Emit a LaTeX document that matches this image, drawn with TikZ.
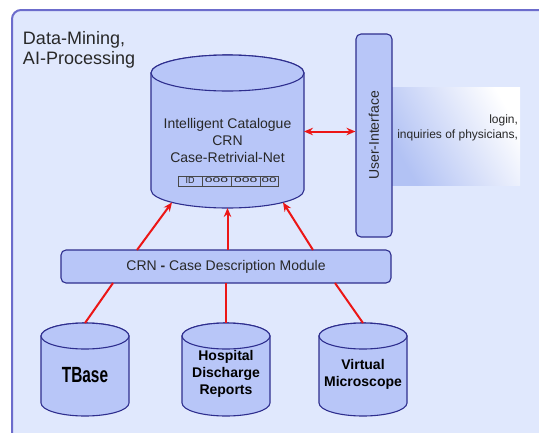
\documentclass[tikz,border=0pt]{standalone}
\usepackage{fontspec}
\setmainfont{Liberation Sans}
\usetikzlibrary{arrows.meta}
\definecolor{bgblue}{RGB}{224,232,253}
\definecolor{outerline}{RGB}{108,108,204}
\definecolor{nodefill}{RGB}{184,198,248}
\definecolor{nodeline}{RGB}{46,46,142}
\definecolor{txt}{RGB}{40,40,40}
\definecolor{arrowred}{RGB}{236,22,22}
\definecolor{gradblue}{RGB}{178,194,244}
\tikzset{
  modbox/.style={draw=nodeline, fill=nodefill, line width=1.1pt, rounded corners=5pt, inner sep=0pt, text=txt, font=\fontsize{14}{17}\selectfont},
  cylfill/.style={draw=nodeline, fill=nodefill, line width=1.1pt},
  region/.style={inner sep=0pt, outer sep=0pt},
  redarrow/.style={draw=arrowred, line width=2pt, -{Stealth[length=9pt,width=7.5pt]}},
  redboth/.style={draw=arrowred, line width=2pt, {Stealth[length=9pt,width=7.5pt]}-{Stealth[length=9pt,width=7.5pt]}},
  redline/.style={draw=arrowred, line width=2pt},
  cyltext/.style={align=center, font=\fontsize{14}{17}\selectfont\bfseries, text=black, inner sep=0pt},
  idcell/.style={inner sep=0pt, font=\fontsize{9}{9}\selectfont, text=txt}
}
\begin{document}
\begin{tikzpicture}[x=1pt,y=-1pt]
\useasboundingbox (0,0) rectangle (539,432);
\clip (0,0) rectangle (539,432);
\fill[white] (0,0) rectangle (539,432);
% outer region
\draw[draw=outerline, fill=bgblue, line width=2pt, rounded corners=9pt] (12,10) rectangle (590,480);
\node[region, anchor=north west, align=left, font=\fontsize{18}{20}\selectfont, text=txt] (title) at (23,31) {Data-Mining,\\AI-Processing};

% main cylinder
\path[cylfill] (151,73) -- (151,190) arc[start angle=180, end angle=360, x radius=76.5pt, y radius=18pt] -- (304,73) arc[start angle=0, end angle=180, x radius=76.5pt, y radius=18pt] -- cycle;
\draw[cylfill] (227.5,73) ellipse[x radius=76.5pt, y radius=18pt];
\node[region, minimum width=153pt, minimum height=153pt] (catalog) at (227.5,131.5) {};
\node[region, align=center, font=\fontsize{14}{17}\selectfont, text=txt] (cattext) at (227.5,140) {Intelligent Catalogue\\CRN\\Case-Retrivial-Net};
% ID record strip
\draw[draw=txt!85, line width=0.8pt] (178,176) rectangle (278,186);
\draw[draw=txt!85, line width=0.8pt] (202,176) -- (202,186) (231,176) -- (231,186) (260.5,176) -- (260.5,186);
\node[idcell] (idA) at (190,180.5) {ID};
\node[idcell] (idB) at (216.5,180.5) {\scalebox{1.55}[1]{ooo}};
\node[idcell] (idC) at (245.75,180.5) {\scalebox{1.55}[1]{ooo}};
\node[idcell] (idD) at (269.25,180.5) {\scalebox{1.5}[1]{oo}};
\coordinate (catL) at (172,202.4);
\coordinate (catM) at (227.5,208);
\coordinate (catR) at (283,202.4);

% login gradient panel
\node[region, minimum width=128pt, minimum height=98pt, top color=gradblue, bottom color=white, shading angle=120] (loginpanel) at (456,136) {};
\node[region, anchor=east, align=right, font=\fontsize{12}{15}\selectfont, text=txt] (logintext) at (518,127.5) {login,\\inquiries of physicians,};

% user interface
\node[modbox, rotate=90, minimum width=203pt, minimum height=36pt] (ui) at (374,135.5) {User-Interface};

% case description module
\node[modbox, minimum width=330pt, minimum height=33pt] (cdm) at (226,266.5) {CRN \textbf{-} Case Description Module};
\coordinate (cdmT1) at (137,250);
\coordinate (cdmT2) at (227.5,250);
\coordinate (cdmT3) at (313,250);
\coordinate (cdmB1) at (113,283);
\coordinate (cdmB2) at (226,283);
\coordinate (cdmB3) at (335,283);

% bottom cylinders
\foreach \cx/\nm in {85/tbase, 226/hdr, 363/vm}{
  \path[cylfill] (\cx-44,336) -- (\cx-44,403) arc[start angle=180, end angle=360, x radius=44pt, y radius=13pt] -- (\cx+44,336) arc[start angle=0, end angle=180, x radius=44pt, y radius=13pt] -- cycle;
  \draw[cylfill] (\cx,336) ellipse[x radius=44pt, y radius=13pt];
  \node[region, minimum width=88pt, minimum height=93pt] (\nm) at (\cx,369.5) {};
}
\node[region, font=\fontsize{22}{22}\selectfont\bfseries, text=black] (tbasetext) at (85,375) {\scalebox{0.7}[1]{TBase}};
\node[cyltext] (hdrtext) at (226,374) {Hospital\\Discharge\\Reports};
\node[cyltext] (vmtext) at (363,374.5) {Virtual\\Microscope};

% connectors
\draw[redboth] (catalog.east) -- (catalog.east -| ui.north);
\draw[redarrow] (cdmT1) -- (catL);
\draw[redarrow] (cdmT2) -- (catM);
\draw[redarrow] (cdmT3) -- (catR);
\draw[redline] (cdmB1) -- (tbase.north);
\draw[redline] (cdmB2) -- (hdr.north);
\draw[redline] (cdmB3) -- (vm.north);
\end{tikzpicture}
\end{document}
